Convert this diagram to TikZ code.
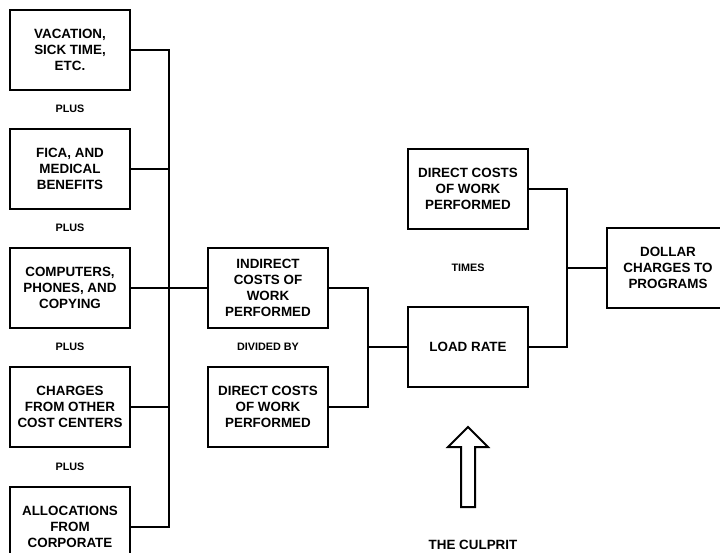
\documentclass[tikz,border=0pt]{standalone}
\usepackage{fontspec}
\setmainfont{Liberation Sans}
\begin{document}
\begin{tikzpicture}[x=1pt,y=-1pt,
  box/.style={draw=black, line width=2pt, rectangle, minimum width=120pt, minimum height=80pt,
    align=center, inner sep=2pt, font=\bfseries\fontsize{13.4}{16}\selectfont},
  lbl/.style={font=\bfseries\fontsize{10.8}{13}\selectfont, inner sep=0pt},
  conn/.style={line width=2pt, line cap=rect}]
\useasboundingbox (0,0) rectangle (720,552);
\clip (0,0) rectangle (720,552);
% left column
\node[box] (b1) at (70,50) {VACATION,\\SICK TIME,\\ETC.};
\node[box] (b2) at (70,169) {FICA, AND\\MEDICAL\\BENEFITS};
\node[box] (b3) at (70,288) {COMPUTERS,\\PHONES, AND\\COPYING};
\node[box] (b4) at (70,407) {CHARGES\\FROM OTHER\\COST CENTERS};
\node[box] (b5) at (70,527) {ALLOCATIONS\\FROM\\CORPORATE};
\node[lbl] (p1) at (70,108.5) {PLUS};
\node[lbl] (p2) at (70,227.5) {PLUS};
\node[lbl] (p3) at (70,347) {PLUS};
\node[lbl] (p4) at (70,466.5) {PLUS};
% middle
\node[box] (ind) at (268,288) {INDIRECT\\COSTS OF\\WORK\\PERFORMED};
\node[box] (dir) at (268,407) {DIRECT COSTS\\OF WORK\\PERFORMED};
\node[lbl] (div) at (268,347) {DIVIDED BY};
% right
\node[box] (dtop) at (468,189) {DIRECT COSTS\\OF WORK\\PERFORMED};
\node[box] (load) at (468,347) {LOAD RATE};
\node[lbl] (times) at (468,268) {TIMES};
\node[box, minimum width=122pt] (dol) at (668,268) {DOLLAR\\CHARGES TO\\PROGRAMS};
\node[font=\bfseries\fontsize{13.4}{16}\selectfont, inner sep=0pt] (cul) at (473,545) {THE CULPRIT};
% bus
\coordinate (busT) at (169,50);
\coordinate (busB) at (169,527);
\draw[conn] (busT) -- (busB);
\foreach \b in {b1,b2,b3,b4,b5} \draw[conn] (\b.east) -- (\b.east -| busT);
\draw[conn] (b3.east -| busT) -- (ind.west);
% join 1
\coordinate (j1) at (368,347);
\draw[conn] (ind.east) -| (j1) |- (dir.east);
\draw[conn] (j1) -- (load.west);
% join 2
\coordinate (j2) at (567,268);
\draw[conn] (dtop.east) -| (j2) |- (load.east);
\draw[conn] (j2) -- (dol.west);
% arrow
\draw[line width=2pt, line join=miter] (461,507) -- (461,447) -- (448,447) -- (468,427) -- (488,447) -- (475,447) -- (475,507) -- cycle;
\end{tikzpicture}
\end{document}
